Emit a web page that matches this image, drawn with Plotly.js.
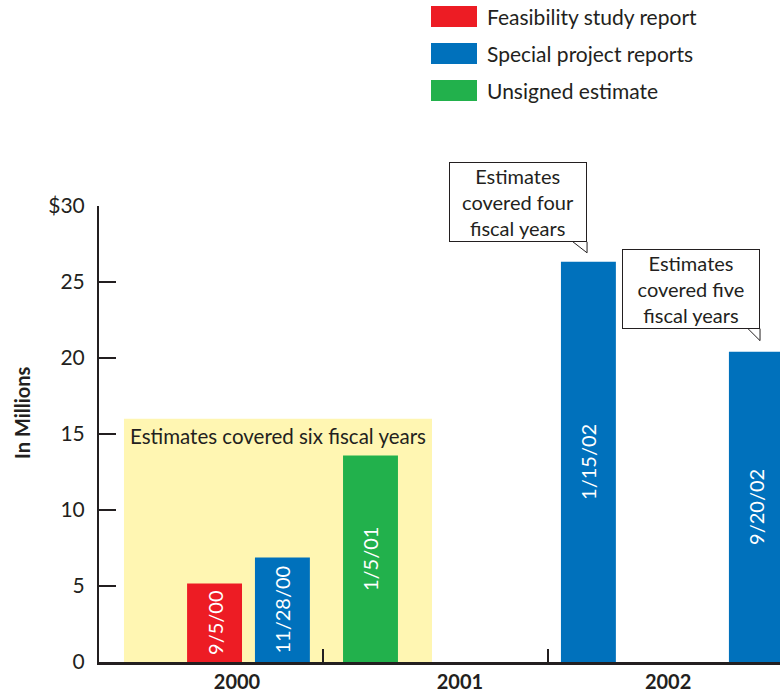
<!DOCTYPE html>
<html>
<head>
<meta charset="utf-8">
<script src="https://cdn.plot.ly/plotly-3.0.1.min.js"></script>
<style>html,body{margin:0;padding:0;background:#fff;}#chart{width:780px;height:694px;}</style>
</head>
<body>
<div id="chart"></div>
<script>
// ---- data ----
const dateLabels = ['9/5/00', '11/28/00', '1/5/01', '1/15/02', '9/20/02'];
const reportTypes = ['Feasibility study report', 'Special project reports', 'Unsigned estimate', 'Special project reports', 'Special project reports'];
const amounts = [5.17, 6.88, 13.58, 26.33, 20.41];     // $ millions
const xPositions = [5.09, 8.08, 11.96, 21.56, 28.96];   // position along the timeline
const seriesNames = ['Feasibility study report', 'Special project reports', 'Unsigned estimate'];
const seriesColors = ['#ed1c24', '#0071bc', '#22b14c'];
const yearLabels = ['2000', '2001', '2002'];
const yearLabelPos = [6.08, 15.9, 25.07];
const yearBoundaries = [9.87, 19.78];
const yTickVals = [0, 5, 10, 15, 20, 25, 30];
const yTickText = ['0', '5', '10', '15', '20', '25', '$30'];
const highlightRange = {x0: 1.1, x1: 14.67, top: 16};
const highlightNote = 'Estimates covered six fiscal years';
const calloutTexts = ['Estimates<br>covered four<br>fiscal years', 'Estimates<br>covered five<br>fiscal years'];

const FONT = 'Lato, "Open Sans", sans-serif';
const INK = '#231f20';

const traces = seriesNames.map((name, si) => {
  const idx = reportTypes.map((t, i) => t === name ? i : -1).filter(i => i >= 0);
  return {
    type: 'bar',
    name: name,
    x: idx.map(i => xPositions[i]),
    y: idx.map(i => amounts[i]),
    text: idx.map(i => dateLabels[i]),
    width: 2.42,
    marker: {color: seriesColors[si], line: {width: 0}},
    textposition: 'inside',
    insidetextanchor: 'middle',
    textangle: -90,
    constraintext: 'none',
    textfont: {family: FONT, size: 20, color: '#ffffff'},
    hoverinfo: 'skip'
  };
});

// plot geometry helpers (paper coords for legend / labels)
const L = 99, T = 206, W = 681, H = 456;
const px = p => (p - L) / W;
const py = p => (T + H - p) / H;

const shapes = [
  {type: 'rect', xref: 'x', yref: 'y', x0: highlightRange.x0, x1: highlightRange.x1, y0: 0, y1: highlightRange.top,
   fillcolor: '#fff6b2', line: {width: 0}, layer: 'below'}
];
const annotations = [
  {xref: 'x', yref: 'y', x: (highlightRange.x0 + highlightRange.x1) / 2, y: 14.9, text: highlightNote,
   showarrow: false, font: {family: FONT, size: 20.5, color: INK}}
];

// callouts attached to the 2002 bars
const calloutCorner = [{x: 21.50, y: 27.64, tailX: 20.88, tipY: 26.92}, {x: 29.12, y: 21.93, tailX: 28.59, tipY: 21.14}];
calloutCorner.forEach((c, k) => {
  annotations.push({xref: 'x', yref: 'y', x: c.x, y: c.y, xanchor: 'right', yanchor: 'bottom',
    text: calloutTexts[k], showarrow: false, align: 'center', width: 136, height: 78,
    bgcolor: '#ffffff', bordercolor: INK, borderwidth: 1, borderpad: 0,
    font: {family: FONT, size: 20, color: INK}});
  shapes.push({type: 'path', xref: 'x', yref: 'y',
    path: `M ${c.tailX},${c.y} L ${c.x},${c.tipY} L ${c.x},${c.y} Z`, fillcolor: '#ffffff', line: {width: 0}});
  shapes.push({type: 'path', xref: 'x', yref: 'y',
    path: `M ${c.tailX},${c.y} L ${c.x},${c.tipY} L ${c.x},${c.y}`, fillcolor: 'rgba(0,0,0,0)', line: {width: 1, color: INK}});
});

// custom legend
const legendTop = [6, 43, 80];
seriesNames.forEach((name, i) => {
  shapes.push({type: 'rect', xref: 'paper', yref: 'paper', x0: px(431), x1: px(477), y0: py(legendTop[i] + 21), y1: py(legendTop[i]),
    fillcolor: seriesColors[i], line: {width: 0}});
  annotations.push({xref: 'paper', yref: 'paper', x: px(485), y: py(legendTop[i] + 10.5), xanchor: 'left', yanchor: 'middle',
    text: name, showarrow: false, font: {family: FONT, size: 21, color: INK}});
});

// y axis title
annotations.push({xref: 'paper', yref: 'paper', x: px(22), y: py(413), xanchor: 'center', yanchor: 'middle',
  text: 'In Millions', textangle: -90, showarrow: false, font: {family: FONT, size: 20, color: INK, weight: 'bold'}});

const layout = {
  width: 780, height: 694,
  margin: {l: L, r: 780 - L - W, t: T, b: 694 - T - H, pad: 0},
  paper_bgcolor: '#ffffff', plot_bgcolor: 'rgba(0,0,0,0)',
  showlegend: false,
  barmode: 'overlay',
  xaxis: {range: [0, 30], showgrid: false, zeroline: false, showline: true, linewidth: 3, linecolor: INK,
    tickmode: 'array', tickvals: yearLabelPos, ticktext: yearLabels, ticks: '',
    tickfont: {family: FONT, size: 20, color: INK, weight: 'bold'},
    minor: {tickmode: 'array', tickvals: yearBoundaries, ticks: 'inside', ticklen: 13, tickwidth: 1.5, tickcolor: INK, showgrid: false},
    fixedrange: true},
  yaxis: {range: [0, 30], showgrid: false, zeroline: false, showline: true, linewidth: 2, linecolor: INK,
    tickmode: 'array', tickvals: yTickVals, ticktext: yTickText, ticks: 'inside', ticklen: 17, tickwidth: 1.5, tickcolor: INK,
    ticklabelstandoff: 8, tickfont: {family: FONT, size: 21, color: INK}, fixedrange: true},
  shapes: shapes,
  annotations: annotations
};

Plotly.newPlot('chart', traces, layout, {displayModeBar: false, staticPlot: true});
</script>
</body>
</html>
